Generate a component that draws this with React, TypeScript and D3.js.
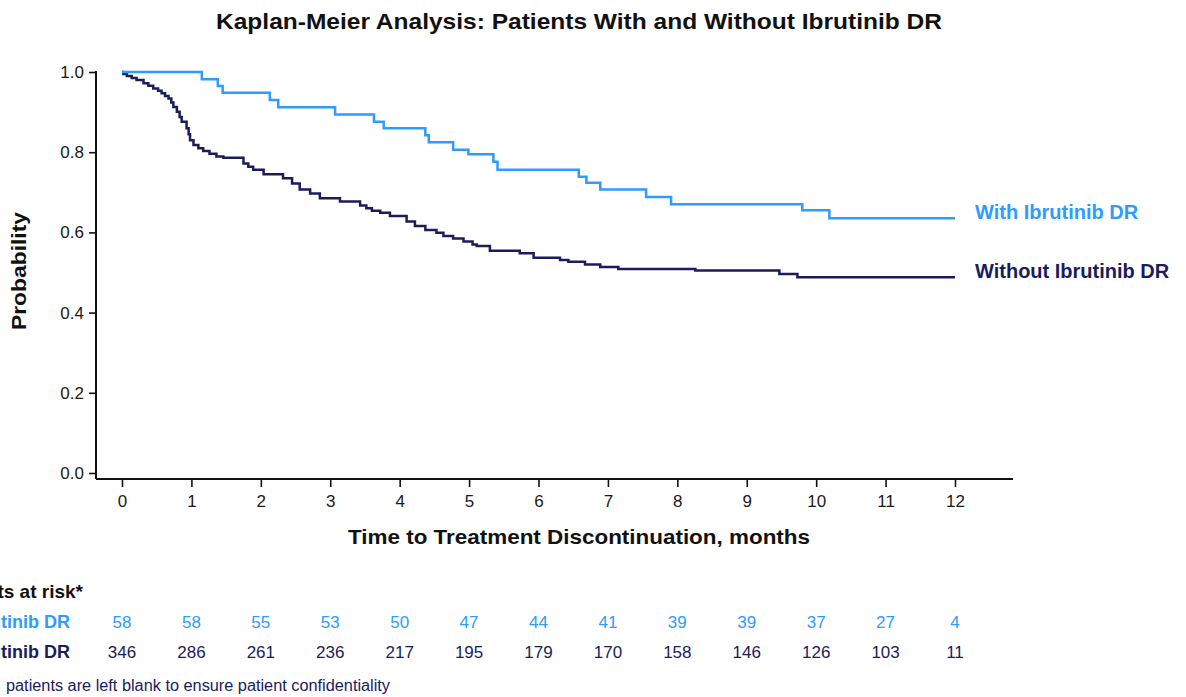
import * as d3 from 'd3';
import { useEffect, useRef } from 'react';

const months = [0, 1, 2, 3, 4, 5, 6, 7, 8, 9, 10, 11, 12];
const probTicks = [0, 0.2, 0.4, 0.6, 0.8, 1.0];

// With Ibrutinib DR (step times in months, survival after each step)
const withTimes = [0, 1.15, 1.38, 1.45, 2.13, 2.25, 3.07, 3.63, 3.77, 4.37, 4.42, 4.77, 4.99, 5.35, 5.41, 6.58, 6.69, 6.89, 7.55, 7.91, 9.80, 10.19, 12];
const withSurv = [1, 0.982, 0.965, 0.948, 0.930, 0.912, 0.894, 0.876, 0.860, 0.842, 0.825, 0.806, 0.795, 0.776, 0.756, 0.739, 0.724, 0.707, 0.688, 0.670, 0.655, 0.635, 0.635];

// Without Ibrutinib DR
const withoutTimes = [0, 0.02, 0.07, 0.14, 0.21, 0.31, 0.38, 0.45, 0.52, 0.57, 0.62, 0.67, 0.71, 0.74, 0.79, 0.83, 0.86, 0.93, 0.96, 0.98, 1.03, 1.10, 1.17, 1.26, 1.36, 1.46, 1.75, 1.82, 1.89, 2.04, 2.32, 2.45, 2.56, 2.71, 2.85, 3.14, 3.43, 3.52, 3.60, 3.72, 3.86, 4.10, 4.22, 4.37, 4.53, 4.63, 4.77, 4.92, 5.05, 5.11, 5.30, 5.73, 5.93, 6.31, 6.43, 6.67, 6.89, 7.15, 8.26, 9.47, 9.73, 12];
const withoutSurv = [1, 0.995, 0.990, 0.985, 0.980, 0.972, 0.966, 0.959, 0.953, 0.947, 0.940, 0.934, 0.924, 0.913, 0.901, 0.888, 0.876, 0.860, 0.845, 0.830, 0.818, 0.810, 0.803, 0.796, 0.789, 0.786, 0.772, 0.764, 0.756, 0.745, 0.735, 0.722, 0.707, 0.697, 0.685, 0.677, 0.667, 0.660, 0.654, 0.649, 0.641, 0.627, 0.616, 0.606, 0.599, 0.591, 0.585, 0.577, 0.570, 0.566, 0.554, 0.548, 0.537, 0.531, 0.527, 0.520, 0.514, 0.509, 0.505, 0.496, 0.488, 0.488];

const atRiskWith = [58, 58, 55, 53, 50, 47, 44, 41, 39, 39, 37, 27, 4];
const atRiskWithout = [346, 286, 261, 236, 217, 195, 179, 170, 158, 146, 126, 103, 11];

const LIGHT = '#2e9bff';
const DARK = '#1a1c5c';
const FONT = '"Liberation Sans", Arial, sans-serif';

const W = 1186;
const H = 697;

const App = () => {
    const svgRef = useRef<SVGSVGElement>(null);

    useEffect(() => {
        const svg = d3.select(svgRef.current)
            .attr('width', W)
            .attr('height', H)
            .style('font-family', FONT);

        svg.selectAll('*').remove();

        const x = d3.scaleLinear().domain([0, 12]).range([122, 955]);
        const y = d3.scaleLinear().domain([0, 1]).range([473, 72]);
        const axisY = 479;
        const axisX = 96;

        // title
        svg.append('text')
            .attr('x', 579)
            .attr('y', 29)
            .attr('text-anchor', 'middle')
            .attr('font-size', 22)
            .attr('font-weight', 'bold')
            .attr('fill', '#111')
            .attr('textLength', 726)
            .attr('lengthAdjust', 'spacingAndGlyphs')
            .text('Kaplan-Meier Analysis: Patients With and Without Ibrutinib DR');

        // y axis
        const yAxis = d3.axisLeft(y).tickValues(probTicks).tickFormat(d3.format('.1f')).tickSize(7).tickPadding(5);
        const gy = svg.append('g')
            .attr('transform', `translate(${axisX},0)`)
            .call(yAxis);
        gy.select('.domain').remove();
        gy.append('line')
            .attr('x1', 0).attr('x2', 0)
            .attr('y1', y(1) - 1).attr('y2', axisY)
            .attr('stroke', '#111').attr('stroke-width', 2);
        gy.selectAll('.tick line').attr('stroke', '#111').attr('stroke-width', 1.6);
        gy.selectAll('.tick text')
            .attr('font-size', 17)
            .attr('font-family', FONT)
            .attr('fill', '#1a1a1a');

        // x axis
        const xAxis = d3.axisBottom(x).tickValues(months).tickFormat(d3.format('d')).tickSize(8).tickPadding(8);
        const gx = svg.append('g')
            .attr('transform', `translate(0,${axisY})`)
            .call(xAxis);
        gx.select('.domain').remove();
        gx.append('line')
            .attr('x1', axisX).attr('x2', 1013)
            .attr('y1', 0).attr('y2', 0)
            .attr('stroke', '#111').attr('stroke-width', 2);
        gx.selectAll('.tick line').attr('stroke', '#111').attr('stroke-width', 1.6);
        gx.selectAll('.tick text')
            .attr('font-size', 17)
            .attr('font-family', FONT)
            .attr('fill', '#1a1a1a');

        // axis titles
        svg.append('text')
            .attr('transform', 'translate(26,271) rotate(270)')
            .attr('text-anchor', 'middle')
            .attr('font-size', 21)
            .attr('font-weight', 'bold')
            .attr('fill', '#111')
            .attr('textLength', 118)
            .attr('lengthAdjust', 'spacingAndGlyphs')
            .text('Probability');
        svg.append('text')
            .attr('x', 579)
            .attr('y', 544)
            .attr('text-anchor', 'middle')
            .attr('font-size', 21)
            .attr('font-weight', 'bold')
            .attr('fill', '#111')
            .attr('textLength', 462)
            .attr('lengthAdjust', 'spacingAndGlyphs')
            .text('Time to Treatment Discontinuation, months');

        // curves
        const drawCurve = (times: number[], surv: number[], color: string) => {
            const pts = times.map((t, i) => [t, surv[i]] as [number, number]);
            const path = d3.line<[number, number]>()
                .x(d => x(d[0]))
                .y(d => y(d[1]))
                .curve(d3.curveStepAfter);
            svg.append('path')
                .datum(pts)
                .attr('d', path)
                .attr('fill', 'none')
                .attr('stroke', color)
                .attr('stroke-width', 2.5);
        };
        drawCurve(withoutTimes, withoutSurv, DARK);
        drawCurve(withTimes, withSurv, LIGHT);

        // curve labels
        svg.append('text')
            .attr('x', 975)
            .attr('y', y(withSurv[withSurv.length - 1]) + 1)
            .attr('font-size', 20)
            .attr('font-weight', 'bold')
            .attr('fill', LIGHT)
            .text('With Ibrutinib DR');
        svg.append('text')
            .attr('x', 975)
            .attr('y', y(withoutSurv[withoutSurv.length - 1]) + 1)
            .attr('font-size', 20)
            .attr('font-weight', 'bold')
            .attr('fill', DARK)
            .text('Without Ibrutinib DR');

        // number at risk table
        svg.append('text')
            .attr('x', 83)
            .attr('y', 598)
            .attr('text-anchor', 'end')
            .attr('font-size', 19)
            .attr('font-weight', 'bold')
            .attr('fill', '#111')
            .text('Patients at risk*');

        const rows = [
            { label: 'With Ibrutinib DR', values: atRiskWith, color: LIGHT, yy: 628 },
            { label: 'Without Ibrutinib DR', values: atRiskWithout, color: DARK, yy: 658 },
        ];
        rows.forEach(row => {
            svg.append('text')
                .attr('x', 70)
                .attr('y', row.yy)
                .attr('text-anchor', 'end')
                .attr('font-size', 18)
                .attr('font-weight', 'bold')
                .attr('fill', row.color)
                .text(row.label);
            svg.selectAll(null)
                .data(row.values)
                .enter()
                .append('text')
                .attr('x', (d, i) => x(months[i]))
                .attr('y', row.yy)
                .attr('text-anchor', 'middle')
                .attr('font-size', 17)
                .attr('fill', row.color)
                .text(d => d);
        });

        svg.append('text')
            .attr('x', 6)
            .attr('y', 691)
            .attr('font-size', 16)
            .attr('fill', DARK)
            .attr('textLength', 384)
            .attr('lengthAdjust', 'spacingAndGlyphs')
            .text('patients are left blank to ensure patient confidentiality');
    }, []);

    return (
        <div>
            <svg ref={svgRef} style={{ position: 'absolute', left: 0, top: 0, background: '#fff' }} />
        </div>
    );
};

export default App;
